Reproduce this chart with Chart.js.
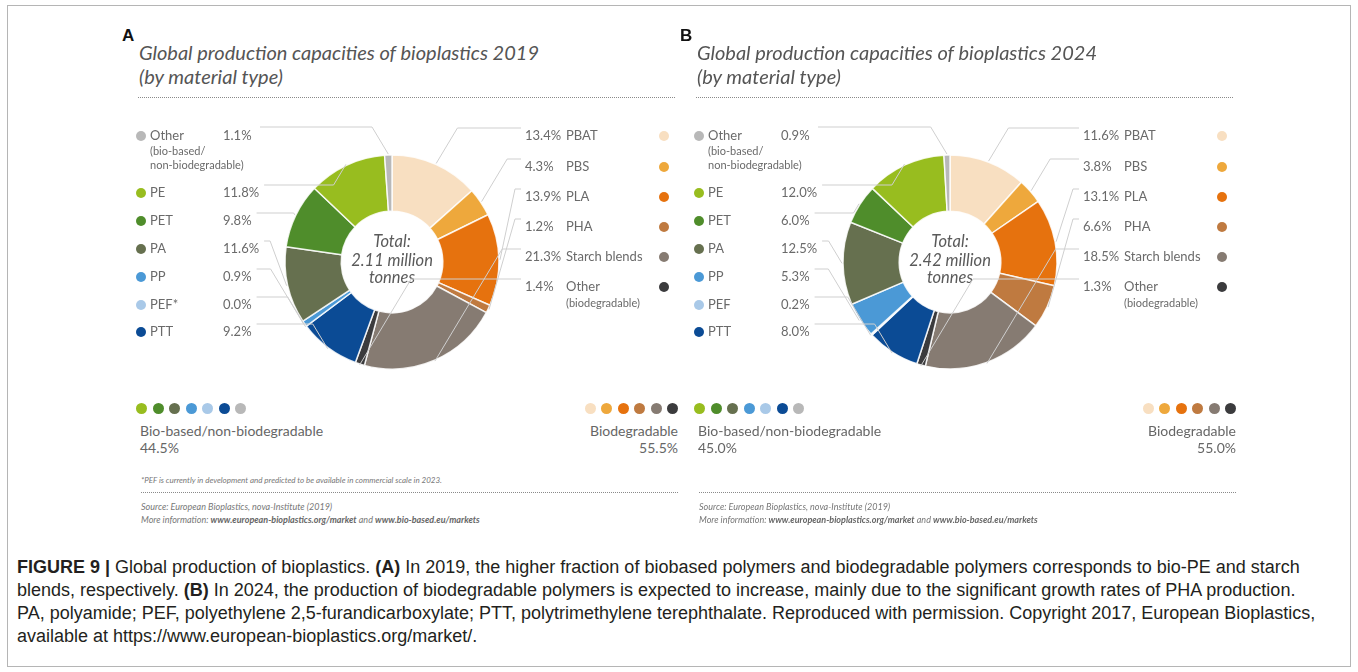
<!DOCTYPE html>
<html>
<head>
<meta charset="utf-8">
<script src="https://cdn.jsdelivr.net/npm/chart.js@4/dist/chart.umd.min.js"></script>
<style>
  body { margin: 0; background: #fff; }
  #fig { position: relative; width: 1358px; height: 672px; overflow: hidden; font-family: Lato, "Open Sans", sans-serif; }
  .frame { position: absolute; left: 7px; top: 5px; width: 1344px; height: 662px; border: 1px solid #b5b5b5; box-sizing: border-box; }
  .panel { position: absolute; top: 0; width: 570px; height: 540px; }
  .letter { position: absolute; left: 12px; top: 26px; font: bold 17px "Liberation Sans", Arial, sans-serif; color: #111; }
  .title { position: absolute; left: 29px; top: 40px; font: italic 20px Lato, sans-serif; line-height: 24px; color: #555; white-space: nowrap; }
  .rule { position: absolute; left: 28px; width: 537px; border-top: 1px dotted #8a8a8a; }
  canvas { position: absolute; left: 0; top: 110px; }
  .dots { position: absolute; top: 403px; display: flex; gap: 5.5px; }
  .dots span { width: 11px; height: 11px; border-radius: 50%; display: block; }
  .grp { position: absolute; font: 14px Lato, sans-serif; color: #666; line-height: 17px; white-space: nowrap; }
  .note { position: absolute; left: 31px; font: italic 8px Lato, sans-serif; color: #777; white-space: nowrap; }
  .src { position: absolute; left: 31px; font: italic 9px Lato, sans-serif; color: #777; line-height: 13px; white-space: nowrap; }
  .src b { color: #666; }
  .cap { position: absolute; left: 17px; font: 18px "Liberation Sans Narrow", "Arial Narrow", "Liberation Sans", sans-serif; color: #231f20; white-space: nowrap; line-height: 23px; }
</style>
</head>
<body>
<div id="fig">
  <div class="frame"></div>
  <div class="panel" id="panelA" style="left:110px"></div>
  <div class="panel" id="panelB" style="left:668px"></div>
  <div class="cap" style="top:556px"><b>FIGURE 9 |</b> Global production of bioplastics. <b>(A)</b> In 2019, the higher fraction of biobased polymers and biodegradable polymers corresponds to bio-PE and starch</div>
  <div class="cap" style="top:579px">blends, respectively. <b>(B)</b> In 2024, the production of biodegradable polymers is expected to increase, mainly due to the significant growth rates of PHA production.</div>
  <div class="cap" style="top:602px">PA, polyamide; PEF, polyethylene 2,5-furandicarboxylate; PTT, polytrimethylene terephthalate. Reproduced with permission. Copyright 2017, European Bioplastics,</div>
  <div class="cap" style="top:625px">available at https://www.european-bioplastics.org/market/.</div>
</div>
<script>
// slices clockwise from 12 o'clock
const materials = ['PBAT', 'PBS', 'PLA', 'PHA', 'Starch blends', 'Other', 'PTT', 'PEF', 'PP', 'PA', 'PET', 'PE', 'Other'];
const materialNotes = ['', '', '', '', '', '(biodegradable)', '', '', '', '', '', '', '(bio-based/|non-biodegradable)'];
const materialColors = ['#f8dfc1', '#eea83c', '#e6720e', '#bf7a40', '#867b72', '#3b3b3d', '#0b4b95', '#a9c9e8', '#4b99d6', '#66704f', '#4f8d2b', '#98bd1f', '#b8b8b8'];
const share2019 = [13.4, 4.3, 13.9, 1.2, 21.3, 1.4, 9.2, 0.0, 0.9, 11.6, 9.8, 11.8, 1.1];
const share2024 = [11.6, 3.8, 13.1, 6.6, 18.5, 1.3, 8.0, 0.2, 5.3, 12.5, 6.0, 12.0, 0.9];
const totalTonnes = ['2.11', '2.42'];
const bioBasedShare = [44.5, 45.0];
const biodegradableShare = [55.5, 55.0];
const years = ['2019', '2024'];

// which slices are listed on each side (top to bottom)
const leftList = [12, 11, 10, 9, 8, 7, 6];
const rightList = [0, 1, 2, 3, 4, 5];
const bioBasedDots = [11, 10, 9, 8, 7, 6, 12];
const biodegradableDots = [0, 1, 2, 3, 4, 5];

const leftRowY = [26, 83, 111, 139, 167, 195, 222];
const rightRowY = [26, 57, 87, 117, 147, 177];

const callouts = {
  id: 'callouts',
  afterDatasetsDraw(chart, args, opts) {
    const ctx = chart.ctx;
    const meta = chart.getDatasetMeta(0);
    const values = chart.data.datasets[0].data;
    const cx = meta.data[0].x, cy = meta.data[0].y;
    ctx.save();

    ctx.fillStyle = '#5a5a5a';
    ctx.textAlign = 'center';
    ctx.textBaseline = 'middle';
    ctx.font = 'italic 16.5px Lato';
    ctx.fillText('Total:', cx, cy - 20);
    ctx.fillText(opts.total + ' million', cx, cy - 1);
    ctx.fillText('tonnes', cx, cy + 16);

    const anchor = (i) => {
      const arc = meta.data[i];
      const mid = (arc.startAngle + arc.endAngle) / 2;
      const r = arc.outerRadius + 1;
      return [arc.x + Math.cos(mid) * r, arc.y + Math.sin(mid) * r];
    };
    const line = (pts) => {
      ctx.beginPath();
      ctx.moveTo(pts[0][0], pts[0][1]);
      pts.slice(1).forEach(p => ctx.lineTo(p[0], p[1]));
      ctx.strokeStyle = '#cfcfcf';
      ctx.lineWidth = 1;
      ctx.stroke();
    };
    const pct = v => v.toFixed(1) + '%';

    ctx.textAlign = 'left';
    // left column
    leftList.forEach((i, k) => {
      const y = leftRowY[k];
      ctx.fillStyle = materialColors[i];
      ctx.beginPath(); ctx.arc(31, y, 5, 0, Math.PI * 2); ctx.fill();
      ctx.fillStyle = '#6a6a6a';
      ctx.font = '13px Lato';
      let name = materials[i];
      if (i === 7 && opts.pefNote) name += '*';
      ctx.fillText(name, 40, y);
      ctx.fillText(pct(values[i]), 113, y);
      let sx = 113 + ctx.measureText(pct(values[i])).width + 5, sy = y - 8;
      if (materialNotes[i]) {
        ctx.font = '11px Lato';
        materialNotes[i].split('|').forEach((t, j) => ctx.fillText(t, 40, y + 15 + j * 14));
        sx = 150; sy = y - 9;
      }
      const [px, py] = anchor(i);
      const ex = Math.min(px, Math.max(sx + 6, px - Math.abs(py - sy) * 0.6));
      line([[sx, sy], [ex, sy], [px, py]]);
    });

    // right column
    rightList.forEach((i, k) => {
      const y = rightRowY[k];
      ctx.fillStyle = materialColors[i];
      ctx.beginPath(); ctx.arc(554, y, 5, 0, Math.PI * 2); ctx.fill();
      ctx.fillStyle = '#6a6a6a';
      ctx.font = '13px Lato';
      ctx.fillText(pct(values[i]), 415, y);
      ctx.fillText(materials[i], 456, y);
      if (materialNotes[i]) {
        ctx.font = '11px Lato';
        ctx.fillText(materialNotes[i], 456, y + 16);
      }
      const sx = 411, sy = y - 8;
      const [px, py] = anchor(i);
      const ex = Math.max(px, Math.min(sx - 6, px + Math.abs(py - sy) * 0.6));
      line([[sx, sy], [ex, sy], [px, py]]);
    });
    ctx.restore();
  }
};

function buildPanel(el, k, values, letter, note) {
  const dotHtml = list => list.map(i => '<span style="background:' + materialColors[i] + '"></span>').join('');
  el.innerHTML =
    '<div class="letter">' + letter + '</div>' +
    '<div class="title">Global production capacities of bioplastics ' + years[k] + '<br>(by material type)</div>' +
    '<div class="rule" style="top:97px"></div>' +
    '<canvas width="570" height="290"></canvas>' +
    '<div class="dots" style="left:26px">' + dotHtml(bioBasedDots) + '</div>' +
    '<div class="dots" style="right:2px">' + dotHtml(biodegradableDots) + '</div>' +
    '<div class="grp" style="left:30px;top:422px">Bio-based/non-biodegradable<br>' + bioBasedShare[k].toFixed(1) + '%</div>' +
    '<div class="grp" style="right:2px;top:422px;text-align:right">Biodegradable<br>' + biodegradableShare[k].toFixed(1) + '%</div>' +
    (note ? '<div class="note" style="top:475px">*PEF is currently in development and predicted to be available in commercial scale in 2023.</div>' : '') +
    '<div class="rule" style="top:492px;left:31px;width:537px"></div>' +
    '<div class="src" style="top:500px">Source: European Bioplastics, nova-Institute (2019)<br>More information: <b>www.european-bioplastics.org/market</b> and <b>www.bio-based.eu/markets</b></div>';

  new Chart(el.querySelector('canvas').getContext('2d'), {
    type: 'doughnut',
    data: {
      labels: materials,
      datasets: [{
        data: values,
        backgroundColor: materialColors,
        borderColor: 'rgba(255,255,255,0.85)',
        borderWidth: 1.5,
        radius: 107,
        cutout: 50
      }]
    },
    options: {
      responsive: false,
      animation: false,
      layout: { padding: { left: 176, right: 182, top: 46, bottom: 32 } },
      plugins: {
        legend: { display: false },
        tooltip: { enabled: false },
        callouts: { total: totalTonnes[k], pefNote: note }
      }
    },
    plugins: [callouts]
  });
}

buildPanel(document.getElementById('panelA'), 0, share2019, 'A', true);
buildPanel(document.getElementById('panelB'), 1, share2024, 'B', false);
</script>
</body>
</html>
